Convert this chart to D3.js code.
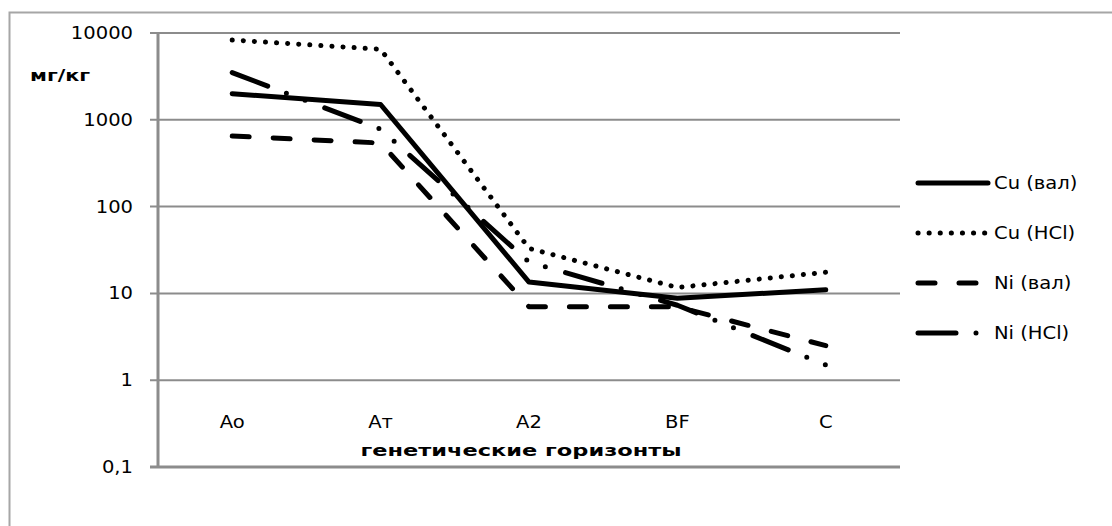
<!DOCTYPE html>
<html lang="ru">
<head>
  <meta charset="UTF-8">
  <title>D3</title>
  <script src="https://d3js.org/d3.v7.min.js"></script>
  <style>
    body { margin: 0; background: #fff; }
    text { font-family: "DejaVu Sans", Verdana, sans-serif; fill: #000; }
  </style>
</head>
<body>
  <svg></svg>
  <script>
    const horizons = ["Ao", "Aт", "A2", "BF", "C"];
    const yTicks = [0.1, 1, 10, 100, 1000, 10000];
    const seriesNames = ["Cu (вал)", "Cu (HCl)", "Ni (вал)", "Ni (HCl)"];
    const cuTotal = [2000, 1500, 13.5, 8.8, 11];
    const cuHcl = [8300, 6500, 33, 11.7, 17.5];
    const niTotal = [650, 540, 7, 7, 2.5];
    const niHcl = [3500, 780, 23, 7.3, 1.5];

    const dashes = ["none", "0.1 11", "17 24", "38 20 0 20 0 21"];
    const series = [cuTotal, cuHcl, niTotal, niHcl].map((v, i) => ({
      name: seriesNames[i], values: v, dash: dashes[i]
    }));

    const width = 1112, height = 526;
    const plot = { left: 158, right: 900, top: 33, bottom: 467 };
    const sx = 1.15; // the original text is stretched sideways

    const svg = d3.select("svg")
      .attr("width", width)
      .attr("height", height);

    // outer frame (only top/left visible in the original)
    svg.append("rect")
      .attr("x", 9.5).attr("y", 12.5)
      .attr("width", 1120).attr("height", 530)
      .attr("fill", "none")
      .attr("stroke", "#a6a6a6")
      .attr("stroke-width", 2);

    const x = d3.scaleBand()
      .domain(horizons)
      .range([plot.left, plot.right]);

    const y = d3.scaleLog()
      .domain([0.1, 10000])
      .range([plot.bottom, plot.top]);

    // grid lines
    svg.append("g")
      .selectAll("line")
      .data(yTicks)
      .enter().append("line")
      .attr("x1", plot.left - 8)
      .attr("x2", plot.right)
      .attr("y1", d => y(d))
      .attr("y2", d => y(d))
      .attr("stroke", "#8c8c8c")
      .attr("stroke-width", d => d === 0.1 ? 3 : 2);

    // y axis line
    svg.append("line")
      .attr("x1", plot.left).attr("x2", plot.left)
      .attr("y1", plot.top).attr("y2", plot.bottom + 1)
      .attr("stroke", "#8c8c8c")
      .attr("stroke-width", 3);

    // y tick labels
    svg.append("g")
      .selectAll("text")
      .data(yTicks)
      .enter().append("text")
      .attr("transform", d => `translate(133, ${y(d) + 6}) scale(${sx}, 1)`)
      .attr("text-anchor", "end")
      .style("font-size", "17px")
      .text(d => String(d).replace(".", ","));

    // x tick labels
    svg.append("g")
      .selectAll("text")
      .data(horizons)
      .enter().append("text")
      .attr("transform", d => `translate(${x(d) + x.bandwidth() / 2}, 428) scale(${sx}, 1)`)
      .attr("text-anchor", "middle")
      .style("font-size", "17px")
      .text(d => d);

    svg.append("text")
      .attr("transform", `translate(${(plot.left + plot.right) / 2 - 8}, 456) scale(1.5, 1)`)
      .attr("text-anchor", "middle")
      .style("font-size", "15px")
      .style("font-weight", "bold")
      .text("генетические горизонты");

    svg.append("text")
      .attr("transform", "translate(30, 81) scale(1.38, 1)")
      .style("font-size", "15px")
      .style("font-weight", "bold")
      .text("мг/кг");

    const line = d3.line()
      .x((d, i) => x(horizons[i]) + x.bandwidth() / 2)
      .y(d => y(d));

    svg.append("g")
      .selectAll("path")
      .data(series)
      .enter().append("path")
      .attr("d", d => line(d.values))
      .attr("fill", "none")
      .attr("stroke", "#000")
      .attr("stroke-width", 5)
      .attr("stroke-linecap", "round")
      .attr("stroke-linejoin", "round")
      .attr("stroke-dasharray", d => d.dash);

    // legend
    const legend = svg.append("g")
      .selectAll("g")
      .data(series)
      .enter().append("g")
      .attr("transform", (d, i) => `translate(0, ${183 + i * 50})`);

    legend.append("line")
      .attr("x1", 918).attr("x2", 988)
      .attr("y1", 0).attr("y2", 0)
      .attr("stroke", "#000")
      .attr("stroke-width", 5)
      .attr("stroke-linecap", "round")
      .attr("stroke-dasharray", d => d.dash);

    legend.append("text")
      .attr("transform", `translate(994, 6) scale(${sx}, 1)`)
      .style("font-size", "17px")
      .text(d => d.name);
  </script>
</body>
</html>
